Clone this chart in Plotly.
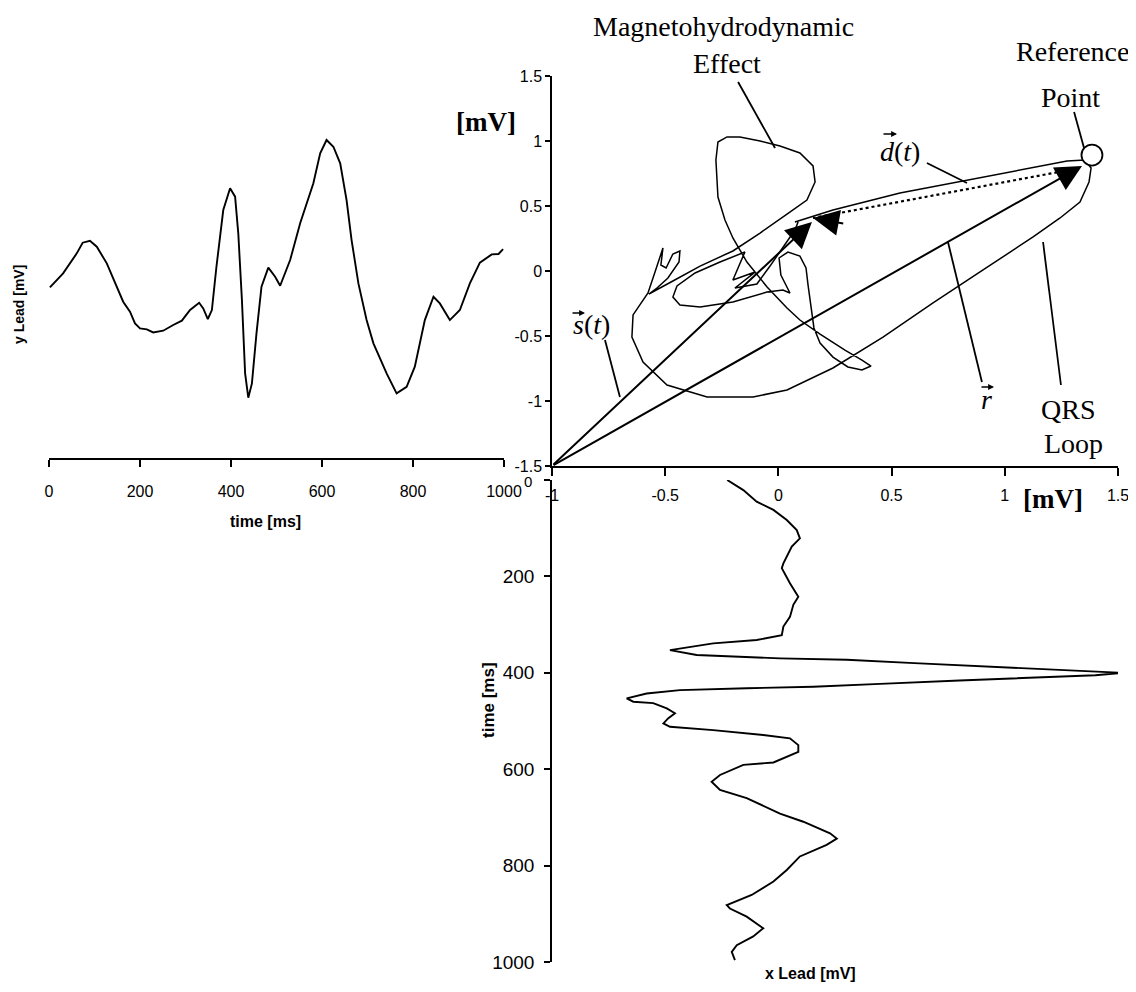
import plotly.graph_objects as go

# ---------------- data ----------------
# y lead (top-left panel): time [ms] and voltage [mV]
ylead_t = [2, 31, 61, 74, 90, 105, 127, 149, 163, 178, 189, 200, 215, 229, 251, 273, 292, 310, 330, 339,
           349, 358, 368, 383, 398, 409, 416, 424, 431, 438, 446, 456, 467, 482, 497, 508, 530, 552, 581,
           596, 610, 625, 640, 654, 665, 680, 698, 713, 742, 764, 786, 804, 826, 845, 859, 881, 903, 925,
           947, 973, 988, 998]
ylead_v = [-0.125, -0.018, 0.136, 0.218, 0.233, 0.187, 0.059, -0.12, -0.236, -0.313, -0.403, -0.441, -0.449,
           -0.472, -0.459, -0.415, -0.382, -0.3, -0.244, -0.287, -0.369, -0.3, 0.033, 0.469, 0.636, 0.572,
           0.29, -0.223, -0.787, -0.974, -0.864, -0.479, -0.12, 0.026, -0.044, -0.113, 0.085, 0.367, 0.675,
           0.905, 1.008, 0.956, 0.828, 0.546, 0.238, -0.095, -0.377, -0.556, -0.787, -0.941, -0.89, -0.736,
           -0.377, -0.198, -0.249, -0.377, -0.3, -0.095, 0.064, 0.128, 0.131, 0.169]

# x lead (bottom panel): time [ms] and voltage [mV]
xlead_t = [0, 21, 45, 62, 83, 104, 121, 138, 173, 183, 214, 242, 259, 284, 304, 322, 332, 339, 353, 363,
           370, 373, 380, 388, 394, 400, 405, 410, 416, 423, 429, 432, 436, 443, 453, 460, 463, 474, 484,
           494, 505, 512, 519, 529, 536, 550, 564, 586, 591, 612, 626, 643, 660, 692, 709, 733, 744, 757,
           781, 809, 833, 861, 882, 889, 906, 930, 947, 965, 979, 996]
xlead_v = [-0.226, -0.155, -0.096, -0.022, 0.037, 0.081, 0.095, 0.059, 0.022, 0.015, 0.051, 0.088, 0.066,
           0.051, 0.022, 0.015, -0.096, -0.288, -0.479, -0.361, 0.007, 0.302, 0.6, 1.0, 1.3, 1.52, 1.4, 1.1,
           0.8, 0.449, 0.154, -0.14, -0.435, -0.582, -0.67, -0.641, -0.553, -0.493, -0.457, -0.486, -0.508,
           -0.479, -0.288, -0.067, 0.051, 0.088, 0.088, -0.022, -0.155, -0.258, -0.295, -0.258, -0.14, 0.007,
           0.11, 0.228, 0.258, 0.213, 0.095, 0.037, -0.022, -0.118, -0.228, -0.214, -0.14, -0.067, -0.111,
           -0.184, -0.206, -0.192]

# vector loop (x lead vs y lead) [mV]
loop_x = [0.073, 0.241, 0.537, 0.833, 1.125, 1.275, 1.354, 1.381, 1.372, 1.332, 1.244, 1.125, 0.904, 0.683,
          0.462, 0.241, 0.038, -0.112, -0.315, -0.492, -0.598, -0.647, -0.642, -0.598, -0.576,
          -0.545, -0.510, -0.519, -0.496, -0.466, -0.435, -0.439, -0.488, -0.541, -0.572,
          -0.466, -0.346, -0.201, -0.081, 0.038, 0.126, 0.162, 0.153, 0.095, 0.007, -0.081, -0.170, -0.227,
          -0.267, -0.276, -0.267, -0.236, -0.201, -0.139, -0.050, 0.038, 0.095, 0.184, 0.294, 0.369, 0.409,
          0.369, 0.307, 0.241, 0.184, 0.157, 0.144, 0.131, 0.122, 0.095, 0.042, 0.003, 0.011, 0.051,
          0.020, -0.050, -0.201, -0.346, -0.435, -0.466, -0.448, -0.368, -0.258, -0.148,
          -0.201, -0.103, -0.192, -0.095, -0.037, 0.029, 0.073, 0.087]
loop_y = [0.377, 0.469, 0.600, 0.700, 0.800, 0.846, 0.854, 0.792, 0.685, 0.531, 0.408, 0.262, 0.008, -0.246,
          -0.508, -0.746, -0.915, -0.969, -0.969, -0.877, -0.700, -0.508, -0.338, -0.223, -0.169,
          -0.008, 0.177, 0.046, 0.023, 0.131, 0.154, 0.069, -0.054, -0.138, -0.177,
          -0.077, 0.038, 0.154, 0.292, 0.438, 0.546, 0.685, 0.808, 0.908, 0.962, 1.000, 1.031, 1.031,
          0.992, 0.854, 0.569, 0.392, 0.254, 0.069, -0.123, -0.285, -0.377, -0.485, -0.608, -0.685, -0.731,
          -0.762, -0.738, -0.662, -0.554, -0.438, -0.285, -0.108, 0.023, 0.115, 0.146, 0.100, -0.031, -0.169,
          -0.146, -0.162, -0.238, -0.277, -0.262, -0.200, -0.115, -0.015, 0.069, 0.146,
          -0.069, -0.008, -0.131, -0.100, 0.038, 0.200, 0.315, 0.377]

reference_point = (1.385, 0.892)
origin = (-1.0, -1.5)
r_tip = (1.341, 0.808)
s_tip = (0.148, 0.377)
d_from = (1.31, 0.785)
d_to = (0.153, 0.408)

time_ticks = [0, 200, 400, 600, 800, 1000]
time_ticktext = ["", "200", "400", "600", "800", "1000"]
mv_ticks = [-1.5, -1, -0.5, 0, 0.5, 1, 1.5]
mv_ticktext = ["-1.5", "-1", "-0.5", "0", "0.5", "1", "1.5"]
x_ticks = [-1, -0.5, 0, 0.5, 1, 1.5]
x_ticktext = ["-1", "-0.5", "0", "0.5", "1", "1.5"]

# callout labels: (text, x px, y px) on the page
callouts = [
    ("Magnetohydrodynamic", 723, 27),
    ("Effect", 727, 64),
    ("Reference", 1072, 52),
    ("Point", 1070, 98),
    ("QRS", 1068, 409),
    ("Loop", 1073, 443),
    ("<i>d</i>(<i>t</i>)", 900, 152),
    ("<i>s</i>(<i>t</i>)", 591, 324),
    ("<i>r</i>", 986, 399),
]
# small vector arrows over the symbols: (x start px, x end px, y px)
overarrows = [(882, 897, 134), (571, 585, 313), (980, 994, 387)]
# leader lines (x0, y0, x1, y1) in loop-plot units
leaders = [
    (-0.178, 1.454, -0.015, 0.946),
    (1.306, 1.223, 1.350, 0.946),
    (0.656, 0.831, 0.833, 0.677),
    (0.749, 0.223, 0.899, -0.854),
    (1.169, 0.223, 1.248, -0.877),
    (-0.766, -0.531, -0.700, -0.969),
]

# ---------------- layout helpers ----------------
OFF = 8             # page body margin of the html page
WF, HF = 1128, 976  # figure size that fits the 1136x992 window
def fx(p):
    return (p - OFF) / WF
def fy(p):
    return 1 - (p - OFF) / HF

SANS_N = "Liberation Sans Narrow, Arial Narrow, Liberation Sans, Arial, sans-serif"
SERIF = "Times New Roman, Liberation Serif, serif"
BLACK = "#000000"

fig = go.Figure()

fig.add_trace(go.Scatter(x=ylead_t, y=ylead_v, mode="lines", line=dict(color=BLACK, width=1.9),
                         xaxis="x", yaxis="y", showlegend=False, hoverinfo="skip"))
fig.add_trace(go.Scatter(x=loop_x, y=loop_y, mode="lines", line=dict(color=BLACK, width=1.5),
                         xaxis="x2", yaxis="y2", showlegend=False, hoverinfo="skip", cliponaxis=False))
fig.add_trace(go.Scatter(x=[d_from[0], d_to[0]], y=[d_from[1], d_to[1]], mode="lines",
                         line=dict(color=BLACK, width=2.2, dash="dot"),
                         xaxis="x2", yaxis="y2", showlegend=False, hoverinfo="skip"))
fig.add_trace(go.Scatter(x=[reference_point[0]], y=[reference_point[1]], mode="markers",
                         marker=dict(symbol="circle", size=21, color="white", line=dict(color=BLACK, width=1.8)),
                         xaxis="x2", yaxis="y2", showlegend=False, hoverinfo="skip", cliponaxis=False))
fig.add_trace(go.Scatter(x=xlead_v, y=xlead_t, mode="lines", line=dict(color=BLACK, width=1.9),
                         xaxis="x3", yaxis="y3", showlegend=False, hoverinfo="skip", cliponaxis=False))

annotations = []
# vector arrows
for tip in (r_tip, s_tip):
    annotations.append(dict(x=tip[0], y=tip[1], ax=origin[0], ay=origin[1], xref="x2", yref="y2",
                            axref="x2", ayref="y2", text="", showarrow=True, arrowhead=2, arrowsize=2.6,
                            arrowwidth=2, arrowcolor=BLACK))
annotations.append(dict(x=d_to[0], y=d_to[1], ax=d_to[0] + 0.14, ay=d_to[1] - 0.045, xref="x2", yref="y2",
                        axref="x2", ayref="y2", text="", showarrow=True, arrowhead=2, arrowsize=2.6,
                        arrowwidth=2, arrowcolor=BLACK))
for text, x, y in callouts:
    annotations.append(dict(x=fx(x), y=fy(y), xref="paper", yref="paper", text=text, showarrow=False,
                            xanchor="center", yanchor="middle",
                            font=dict(family=SERIF, size=28, color=BLACK)))
for x0, x1, y in overarrows:
    annotations.append(dict(x=fx(x1), y=fy(y), xref="paper", yref="paper", ax=x0 - x1, ay=0,
                            text="", showarrow=True, arrowhead=2, arrowsize=0.9, arrowwidth=1.3,
                            arrowcolor=BLACK))

# unit labels and axis titles
def lab(text, x, y, size, family, angle=0):
    return dict(x=fx(x), y=fy(y), xref="paper", yref="paper", text=text, showarrow=False,
                xanchor="center", yanchor="middle", textangle=angle,
                font=dict(family=family, size=size, color=BLACK))

annotations += [
    lab("<b>[mV]</b>", 486, 122, 27, SERIF),
    lab("<b>[mV]</b>", 1053, 499, 27, SERIF),
    lab("<b>y Lead [mV]</b>", 19, 305, 14, SANS_N, -90),
    lab("<b>time [ms]</b>", 265, 521, 16, SANS_N),
    lab("<b>time [ms]</b>", 488, 700, 17, SANS_N, -90),
    lab("<b>x Lead [mV]</b>", 810, 973, 16, SANS_N),
    lab("0", 528, 482, 15, SANS_N),
]

shapes = [dict(type="line", xref="x2", yref="y2", x0=a, y0=b, x1=c, y1=d,
               line=dict(color=BLACK, width=1.8)) for a, b, c, d in leaders]

tickfont = dict(family=SANS_N, size=16, color=BLACK)
common = dict(showgrid=False, zeroline=False, automargin=False)

fig.update_layout(
    template="none",
    width=WF, height=HF, autosize=False,
    margin=dict(l=0, r=0, t=0, b=0, pad=0),
    paper_bgcolor="white", plot_bgcolor="rgba(0,0,0,0)",
    annotations=annotations, shapes=shapes,
    xaxis=dict(domain=[fx(49), fx(504)], range=[0, 1000], anchor="y", **common,
               showline=True, linecolor=BLACK, linewidth=1.5, ticks="outside", ticklen=7, tickwidth=1.5,
               tickcolor=BLACK, tickvals=time_ticks, tickfont=tickfont, ticklabelstandoff=11),
    yaxis=dict(domain=[fy(458), fy(76)], range=[-1.438, 1.5], anchor="x", visible=False, **common),
    xaxis2=dict(domain=[fx(552), fx(1118)], range=[-1, 1.5], anchor="y2", **common,
                showline=True, linecolor=BLACK, linewidth=1.5, ticks="outside", ticklen=8, tickwidth=1.5,
                tickcolor=BLACK, tickvals=x_ticks, ticktext=x_ticktext, tickfont=tickfont,
                ticklabelstandoff=6, ticklabeloverflow="allow"),
    yaxis2=dict(domain=[fy(466), fy(76)], range=[-1.5, 1.5], anchor="x2", **common,
                showline=True, linecolor=BLACK, linewidth=1.5, ticks="outside", ticklen=5, tickwidth=1.5,
                tickcolor=BLACK, tickvals=mv_ticks, ticktext=mv_ticktext, tickfont=tickfont),
    xaxis3=dict(domain=[fx(552), fx(1118)], range=[-1, 1.5], anchor="y3", visible=False, **common),
    yaxis3=dict(domain=[fy(962), fy(480)], range=[1000, 0], anchor="x3", **common,
                showline=True, linecolor=BLACK, linewidth=1.5, ticks="outside", ticklen=6, tickwidth=1.5,
                tickcolor=BLACK, tickvals=time_ticks, ticktext=time_ticktext,
                tickfont=dict(family=SANS_N, size=19, color=BLACK), ticklabelstandoff=6),
)

fig.write_html("out.html")
